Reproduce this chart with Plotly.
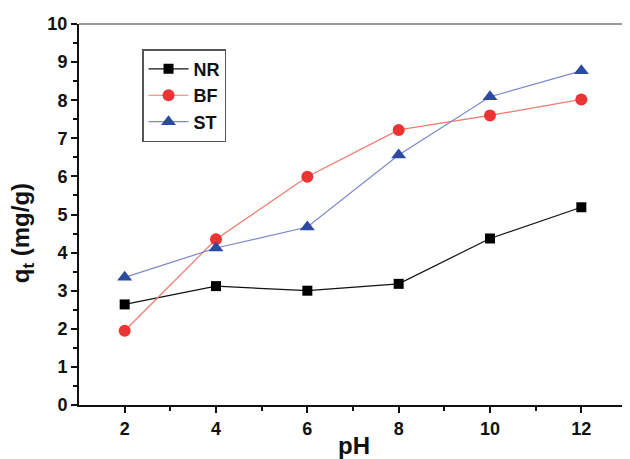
import plotly.graph_objects as go

ph = [2, 4, 6, 8, 10, 12]
nr = [2.64, 3.12, 3.00, 3.18, 4.37, 5.19]
bf = [1.95, 4.35, 5.99, 7.22, 7.60, 8.02]
st = [3.35, 4.12, 4.67, 6.56, 8.09, 8.77]

x_ticks = [2, 4, 6, 8, 10, 12]
y_ticks = list(range(0, 11))

FONT = "Liberation Sans, Arial"

fig = go.Figure()
fig.add_trace(go.Scatter(x=ph, y=nr, name="NR", mode="lines+markers",
                         line=dict(color="#111111", width=1.2),
                         marker=dict(symbol="square", size=10, color="#000000")))
fig.add_trace(go.Scatter(x=ph, y=bf, name="BF", mode="lines+markers",
                         line=dict(color="#f07a6e", width=1.2),
                         marker=dict(symbol="circle", size=12, color="#ec3434")))
fig.add_trace(go.Scatter(x=ph, y=st, name="ST", mode="lines+markers",
                         line=dict(color="#7f86cc", width=1.2),
                         marker=dict(symbol="triangle-up", size=13, color="#2d4aa2")))

tickfont = dict(family=FONT, size=18, color="#111111", weight="bold")

# The page body has an 8px default margin, so the figure is sized to fit.
fig.update_layout(
    width=622, height=451,
    margin=dict(l=71, r=3, t=16, b=54),
    paper_bgcolor="white", plot_bgcolor="white",
    showlegend=True,
    legend=dict(x=0.115, y=0.934, xanchor="left", yanchor="top",
                bgcolor="white", bordercolor="#555555", borderwidth=1.5,
                font=dict(family=FONT, size=18, color="#111111", weight="bold"),
                tracegroupgap=0, itemwidth=40),
    xaxis=dict(range=[1, 13], tickvals=x_ticks, ticktext=[str(v) for v in x_ticks],
               showgrid=False, zeroline=False, showline=True, linecolor="#111111", linewidth=2,
               ticks="outside", ticklen=6, tickwidth=1.5, tickcolor="#111111",
               minor=dict(tickvals=[3, 5, 7, 9, 11], ticks="outside", ticklen=4, tickwidth=1.5, tickcolor="#111111"),
               tickfont=tickfont),
    yaxis=dict(range=[0, 10], tickvals=y_ticks, ticktext=[str(v) for v in y_ticks],
               showgrid=False, zeroline=False, showline=True, linecolor="#111111", linewidth=2,
               ticks="outside", ticklen=6, tickwidth=1.5, tickcolor="#111111",
               minor=dict(dtick=0.5, ticks="outside", ticklen=4, tickwidth=1.5, tickcolor="#111111"),
               tickfont=tickfont),
)

fig.add_annotation(text="<b>pH</b>", xref="paper", yref="paper", x=0.502, y=-0.105,
                   xanchor="center", yanchor="middle", showarrow=False,
                   font=dict(family=FONT, size=24, color="#111111"))
fig.add_annotation(text="<b>q<sub>t</sub> (mg/g)</b>", xref="paper", yref="paper", x=-0.104, y=0.451,
                   xanchor="center", yanchor="middle", textangle=-90, showarrow=False,
                   font=dict(family=FONT, size=24, color="#111111"))

# light grey frame on top and right
fig.add_shape(type="line", xref="paper", yref="paper", x0=0, x1=1, y0=1, y1=1,
              line=dict(color="#777777", width=1.5), layer="below")
fig.add_shape(type="line", xref="paper", yref="paper", x0=1, x1=1, y0=0, y1=1,
              line=dict(color="#cccccc", width=1.5), layer="below")

fig.write_html("out.html")
